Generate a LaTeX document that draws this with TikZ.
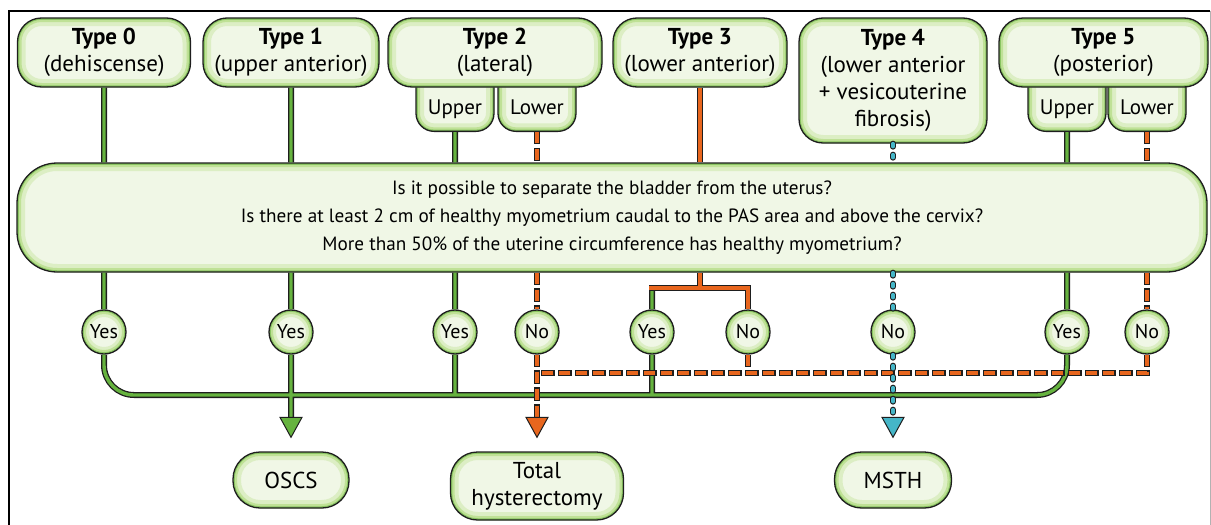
\documentclass[tikz,border=0pt]{standalone}
\usepackage{fontspec}
\setmainfont{PT Sans}
\usetikzlibrary{calc}
\definecolor{pasgreen}{HTML}{66B33F}
\definecolor{pasorange}{HTML}{E8661E}
\definecolor{pascyan}{HTML}{45B6C8}
\definecolor{boxfill}{HTML}{F0F7E6}
\definecolor{boxglow}{HTML}{DCEEC4}
\definecolor{boxrim}{HTML}{BFE196}
\definecolor{rim}{HTML}{1E1E1E}
\tikzset{
glow/.style={path picture={
  \draw[boxglow, line width=16pt, rounded corners=#1] (path picture bounding box.south west) rectangle (path picture bounding box.north east);
  \draw[boxrim, line width=8pt, rounded corners=#1] (path picture bounding box.south west) rectangle (path picture bounding box.north east);
  \draw[pasgreen!60!boxrim, line width=3.5pt, rounded corners=#1] (path picture bounding box.south west) rectangle (path picture bounding box.north east);}},
cglow/.style={path picture={
  \draw[boxglow, line width=14pt] (path picture bounding box.center) circle (#1);
  \draw[boxrim, line width=8pt] (path picture bounding box.center) circle (#1);
  \draw[pasgreen!60!boxrim, line width=3.5pt] (path picture bounding box.center) circle (#1);}},
typebox/.style={draw=rim, line width=1.3pt, fill=boxfill, rounded corners=24pt, glow=24pt,
  align=center, inner sep=0pt, minimum height=69pt, font=\fontsize{23}{27}\selectfont},
subbox/.style={draw=rim, line width=1.3pt, fill=boxfill, rounded corners=18pt, glow=18pt,
  anchor=south, minimum width=78pt, inner xsep=0pt, inner ysep=5pt,
  text height=54pt, text depth=12pt, font=\fontsize{21}{24}\selectfont},
bigbox/.style={draw=rim, line width=1.3pt, fill=boxfill, rounded corners=40pt, glow=40pt,
  align=center, inner sep=0pt, font=\fontsize{19.2}{28}\selectfont},
answer/.style={circle, draw=rim, line width=1.3pt, fill=boxfill, cglow=22pt,
  minimum size=44pt, inner sep=0pt, font=\fontsize{20}{22}\selectfont},
endbox/.style={typebox, rounded corners=27pt, glow=27pt, minimum height=56pt},
gline/.style={draw=pasgreen, line width=3.4pt, preaction={draw=rim, line width=6pt}},
oline/.style={draw=pasorange, line width=3.4pt, preaction={draw=rim, line width=6pt}},
odash/.style={draw=pasorange, line width=3.4pt, dash pattern=on 11pt off 6pt,
  preaction={draw=rim, line width=6pt, dash pattern=on 13.4pt off 3.6pt, dash phase=1.2pt}},
cdash/.style={draw=pascyan, line width=3.4pt, line cap=round, dash pattern=on 3pt off 8pt,
  preaction={draw=rim, line width=6pt, line cap=round, dash pattern=on 3pt off 8pt}},
ghead/.style={fill=pasgreen, draw=rim, line width=1pt},
ohead/.style={fill=pasorange, draw=rim, line width=1pt},
chead/.style={fill=pascyan, draw=rim, line width=1pt},
}

\begin{document}
\begin{tikzpicture}[x=1pt,y=-1pt]
\useasboundingbox (0,0) rectangle (1211,525);
\draw[line width=2pt] (9,530) |- (1210,11);
\draw[black!30, line width=1pt] (1210,11) -- (1210,530);

% sub boxes first, the type boxes hide their tops
\node[subbox] (u2) at (455,132) {Upper};
\node[subbox] (l2) at (537,132) {Lower};
\node[subbox] (u5) at (1067,132) {Upper};
\node[subbox] (l5) at (1147,132) {Lower};

\node[typebox, minimum width=173pt] (t0) at (104,52.5) {\textbf{Type 0}\\(dehiscense)};
\node[typebox, minimum width=176pt] (t1) at (291,52.5) {\textbf{Type 1}\\(upper anterior)};
\node[typebox, minimum width=214pt] (t2) at (495,52.5) {\textbf{Type 2}\\(lateral)};
\node[typebox, minimum width=174pt] (t3) at (700,52.5) {\textbf{Type 3}\\(lower anterior)};
\node[typebox, minimum width=188pt, minimum height=125pt] (t4) at (893,80.5)
  {\textbf{Type 4}\\(lower anterior\\+ vesicouterine\\fibrosis)};
\node[typebox, minimum width=209pt] (t5) at (1103.5,52.5) {\textbf{Type 5}\\(posterior)};

\node[bigbox, minimum width=1190pt, minimum height=109pt] (q) at (612,217.5)
  {Is it possible to separate the bladder from the uterus?\\
   Is there at least 2 cm of healthy myometrium caudal to the PAS area and above the cervix?\\
   More than 50\% of the uterine circumference has healthy myometrium?};

\node[answer] (y0) at (104,332) {Yes};
\node[answer] (y1) at (291,332) {Yes};
\node[answer] (y2) at (455,332) {Yes};
\node[answer] (n2) at (537,332) {No};
\node[answer] (y3) at (652,332) {Yes};
\node[answer] (n3) at (748,332) {No};
\node[answer] (n4) at (893,332) {No};
\node[answer] (y5) at (1067,332) {Yes};
\node[answer] (n5) at (1147,332) {No};

\node[endbox, minimum width=116pt] (oscs) at (291,480) {OSCS};
\node[endbox, minimum width=173pt, minimum height=68pt] (tot) at (537,486) {Total\\hysterectomy};
\node[endbox, minimum width=117pt] (msth) at (893,480) {MSTH};

\coordinate (fork) at (0,288);
\coordinate (obus) at (0,373);
\coordinate (gbus) at (0,395);
\coordinate (abase) at (0,420);

% yes branches
\draw[gline, rounded corners=30pt]
  (t0.south) -- (t0.south |- q.north)
  (t1.south) -- (t1.south |- q.north)
  (u2.south) -- (u2.south |- q.north)
  (u5.south) -- (u5.south |- q.north)
  (q.south -| y0) -- (y0.north)
  (q.south -| y1) -- (y1.north)
  (q.south -| y2) -- (y2.north)
  (q.south -| y5) -- (y5.north)
  (fork -| y3) -- (y3.north)
  (y0.south) |- (gbus -| y5) -- (y5.south)
  (y2.south) -- (y2 |- gbus)
  (y3.south) -- (y3 |- gbus)
  (y1.south) -- (y1 |- abase);

% type 3 split
\draw[oline]
  (t3.south) -- (t3.south |- q.north)
  (q.south -| t3) -- (t3 |- fork)
  ($(fork -| y3)+(-3,0)$) -| (n3.north);

% no branches
\draw[odash]
  (l2.south) -- (l2.south |- q.north)
  (l5.south) -- (l5.south |- q.north)
  (q.south -| n2) -- (n2.north)
  (q.south -| n5) -- (n5.north)
  (n2.south) -- (n2 |- abase)
  (n3.south) -- (n3 |- obus)
  (n5.south) |- (obus -| n2);

\draw[cdash]
  (t4.south) -- (t4.south |- q.north)
  (q.south -| n4) -- (n4.north)
  (n4.south) -- (n4 |- abase);

\draw[ghead] ($(oscs.north)+(-11,-34)$) -- ++(22,0) -- ($(oscs.north)+(0,-14)$) -- cycle;
\draw[ohead] ($(tot.north)+(-11,-34)$) -- ++(22,0) -- ($(tot.north)+(0,-14)$) -- cycle;
\draw[chead] ($(msth.north)+(-11,-34)$) -- ++(22,0) -- ($(msth.north)+(0,-14)$) -- cycle;
\end{tikzpicture}
\end{document}
